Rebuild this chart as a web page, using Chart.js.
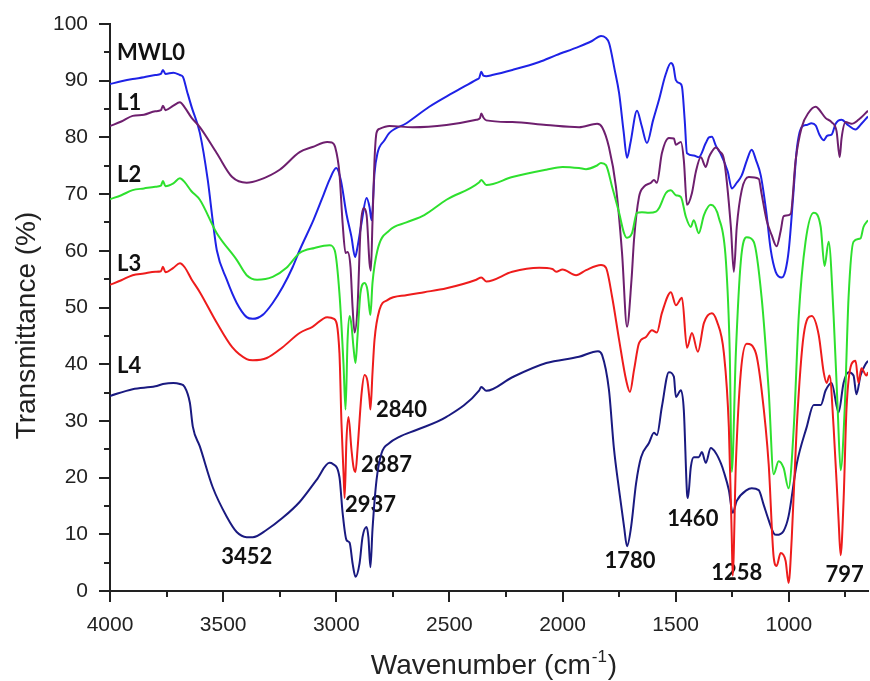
<!DOCTYPE html>
<html>
<head>
<meta charset="utf-8">
<script src="https://cdn.jsdelivr.net/npm/chart.js@4/dist/chart.umd.min.js"></script>
<style>
  html, body { margin: 0; padding: 0; background: #ffffff; }
  #wrap { width: 870px; height: 681px; }
</style>
</head>
<body>
<div id="wrap"><canvas id="ftir" width="870" height="681"></canvas></div>
<script>
// FTIR transmittance spectra: wavenumber (cm^-1) against transmittance (%)

const mwl0Wn = [4000,3950,3900,3850,3800,3775,3766,3755,3720,3691,3678,3660,3638,3603,3568,3545,3528,3484,3440,3396,3369,3325,3281,3237,3193,3162,3100,3055,3030,3000,2980,2955,2933,2917,2906,2888,2866,2853,2844,2831,2818,2787,2765,2690,2589,2487,2380,2368,2359,2350,2337,2311,2222,2103,2028,1927,1870,1830,1810,1794,1770,1750,1730,1715,1700,1671,1650,1627,1600,1574,1545,1521,1510,1499,1480,1472,1460,1450,1420,1398,1367,1353,1340,1322,1300,1270,1252,1230,1208,1185,1164,1145,1124,1100,1080,1058,1031,1015,1000,980,965,943,920,900,881,865,846,830,811,793,767,736,705,679,650];
const mwl0T = [89.4,89.9,90.3,90.6,91.0,91.2,91.9,91.2,91.4,91.0,90.7,88.2,85.2,80.8,72.5,65.0,60.1,54.9,50.8,48.3,48.0,48.7,50.8,53.6,57.1,60.1,65.5,70.0,72.5,74.6,72.5,66.5,62.5,58.9,60.7,65.0,69.3,67.7,65.4,73.7,77.2,79.5,80.8,82.5,85.4,87.8,90.2,90.5,91.6,90.9,90.8,91.0,91.9,93.3,94.5,96.0,97.0,97.9,97.6,96.6,92.0,87.8,81.0,76.4,79.0,84.7,82.0,79.0,83.0,86.6,91.0,93.1,92.5,90.1,89.5,88.9,83.0,77.2,76.8,76.5,79.0,80.0,80.1,78.5,77.0,74.0,71.0,72.0,73.3,76.0,77.8,76.0,73.3,67.0,60.2,56.3,55.3,56.5,60.2,70.0,77.8,81.8,82.2,82.5,82.1,80.5,79.5,80.3,80.5,82.4,83.1,82.1,81.4,82.4,83.7];

const l1Wn = [4000,3950,3900,3850,3800,3775,3766,3755,3720,3691,3670,3640,3603,3528,3460,3396,3340,3250,3162,3105,3040,3020,3005,2986,2972,2959,2950,2937,2928,2919,2906,2893,2880,2866,2853,2847,2840,2831,2822,2809,2765,2663,2513,2381,2365,2359,2350,2337,2222,2072,1927,1847,1825,1795,1764,1737,1715,1695,1684,1662,1640,1609,1596,1583,1561,1530,1508,1499,1477,1464,1450,1428,1411,1389,1367,1353,1340,1322,1305,1287,1256,1243,1230,1208,1177,1133,1120,1098,1076,1054,1036,1023,992,970,943,912,881,868,837,811,789,775,767,749,723,692,650];
const l1T = [82.0,82.8,83.8,84.0,84.6,84.8,85.6,84.8,85.6,86.2,85.3,83.5,81.8,77.2,73.0,72.0,72.5,74.3,77.4,78.3,79.2,79.1,78.3,73.7,64.9,59.6,59.8,57.1,50.1,45.6,50.1,63.7,67.5,66.3,57.8,56.5,65.0,76.0,80.8,81.5,82.0,81.8,82.2,83.1,83.4,84.2,83.5,83.0,82.7,82.2,81.8,82.4,81.8,78.3,71.3,59.6,46.6,55.0,62.0,69.5,71.3,72.0,72.5,72.0,77.2,79.9,79.8,78.7,79.2,76.0,68.1,70.2,73.9,76.5,74.8,76.5,77.5,78.2,77.5,76.2,64.2,56.3,64.2,70.7,73.0,72.7,70.0,65.4,62.8,60.8,63.5,66.1,66.5,75.9,81.8,84.4,85.4,85.0,83.4,82.7,81.1,76.5,79.8,82.7,82.4,83.1,84.7];

const l2Wn = [4000,3950,3900,3850,3800,3775,3766,3755,3720,3691,3670,3640,3603,3528,3440,3396,3350,3281,3220,3162,3096,3030,3007,2986,2968,2959,2950,2941,2933,2924,2915,2906,2893,2875,2862,2853,2849,2840,2818,2765,2690,2611,2513,2368,2359,2337,2222,2072,2000,1927,1896,1850,1830,1808,1781,1750,1728,1715,1693,1671,1649,1618,1587,1574,1543,1521,1499,1477,1455,1433,1420,1398,1375,1345,1309,1278,1261,1252,1234,1212,1186,1155,1120,1089,1067,1045,1023,1001,978,956,926,890,859,842,824,802,784,771,753,736,714,683,670,650];
const l2T = [69.1,69.8,70.7,71.0,71.3,71.5,72.3,71.4,71.9,72.8,72.1,70.5,69.0,63.1,58.4,55.7,54.9,55.4,57.0,59.6,60.5,61.0,60.1,52.5,40.0,32.0,44.3,48.5,47.0,43.0,40.2,45.0,52.6,54.3,53.0,49.6,48.7,54.3,60.1,63.6,65.0,66.3,69.0,72.1,72.5,71.6,73.0,74.3,74.8,74.6,74.4,75.0,75.5,75.1,71.3,66.7,63.1,62.3,63.1,66.7,66.8,66.7,66.9,67.5,70.2,70.7,69.8,69.5,66.0,64.2,65.4,63.1,66.3,68.1,65.8,58.2,42.0,21.0,42.0,58.2,62.4,61.6,51.7,35.4,20.6,22.9,21.7,18.1,28.9,48.5,61.6,66.7,64.2,57.3,61.6,48.5,32.1,21.3,32.1,51.7,61.6,62.2,64.2,65.4];

const l3Wn = [4000,3950,3900,3850,3800,3775,3766,3755,3720,3691,3670,3640,3603,3528,3460,3396,3369,3307,3237,3162,3105,3040,3010,2986,2977,2968,2963,2955,2946,2933,2924,2915,2906,2888,2875,2862,2853,2849,2840,2831,2809,2774,2686,2611,2513,2381,2359,2337,2222,2103,2045,2028,2000,1940,1896,1830,1808,1781,1750,1719,1702,1684,1662,1631,1605,1583,1561,1521,1499,1472,1450,1428,1402,1375,1340,1318,1287,1265,1252,1248,1234,1212,1186,1146,1120,1089,1067,1054,1036,1014,1001,987,965,934,899,868,846,833,820,802,780,771,758,745,723,705,692,679,657,650];
const l3T = [54.0,54.8,55.7,56.0,56.3,56.4,57.2,56.2,57.0,57.8,57.1,55.0,52.7,47.3,43.0,40.9,40.7,41.1,43.0,45.5,46.6,48.3,48.0,42.0,29.6,20.8,16.4,26.6,30.7,25.0,21.9,21.0,25.0,34.9,38.1,37.0,33.7,32.0,38.4,44.3,49.6,51.3,52.2,52.7,53.4,54.9,55.3,54.6,56.3,57.0,56.8,56.3,56.7,55.7,56.6,57.5,57.0,51.9,44.3,37.2,35.1,39.0,43.7,44.8,46.0,45.6,49.0,52.7,50.4,51.7,42.9,45.5,42.2,47.3,49.0,47.6,42.0,28.9,9.3,2.7,22.4,38.6,43.6,42.0,35.4,22.4,6.0,4.4,6.7,5.3,1.4,9.3,28.9,45.2,48.5,45.2,38.6,36.7,38.0,28.9,12.5,6.3,15.9,32.1,40.0,40.6,36.7,39.3,38.0,38.6];

const l4Wn = [4000,3900,3800,3766,3720,3691,3670,3647,3634,3603,3546,3484,3440,3396,3369,3307,3237,3162,3087,3030,3015,2986,2972,2955,2941,2928,2915,2897,2884,2866,2858,2849,2840,2822,2800,2765,2721,2646,2513,2368,2359,2337,2222,2072,1927,1843,1825,1795,1773,1750,1728,1715,1697,1675,1653,1618,1596,1583,1561,1530,1508,1499,1477,1464,1450,1446,1433,1420,1398,1384,1367,1345,1322,1300,1287,1265,1248,1230,1186,1164,1133,1111,1089,1067,1054,1023,1001,965,921,890,859,837,811,780,758,736,714,701,683,661,650];
const l4T = [34.4,35.6,36.1,36.5,36.7,36.5,36.0,33.2,29.0,25.5,18.3,13.1,10.4,9.5,9.5,10.8,12.9,15.7,19.6,22.6,22.4,20.1,13.8,9.0,8.5,4.9,2.5,4.9,9.5,11.3,9.5,4.2,10.8,19.6,24.3,26.1,27.2,28.4,30.7,35.4,36.0,35.3,37.7,40.2,41.3,42.3,41.6,35.5,25.2,17.8,11.3,7.9,11.3,19.0,23.6,26.1,27.9,27.5,32.5,38.6,37.8,34.2,35.4,31.9,17.3,16.4,21.9,23.6,23.6,24.5,22.6,25.2,24.3,22.5,21.0,17.8,13.8,15.9,17.8,18.1,17.8,15.2,12.5,10.2,9.9,10.6,13.2,22.4,28.9,32.8,32.8,35.4,36.7,31.5,36.7,38.6,38.0,34.7,38.0,40.0,40.6];

const seriesNames = ['MWL0', 'L1', 'L2', 'L3', 'L4'];
const xTickValues = [4000, 3500, 3000, 2500, 2000, 1500, 1000];
const yTickValues = [0, 10, 20, 30, 40, 50, 60, 70, 80, 90, 100];

// band annotations, anchored in data units (wavenumber, transmittance)
const bandLabels = ['3452', '2937', '2887', '2840', '1780', '1460', '1258', '797'];
const bandLabelWn = [3396, 2849, 2778, 2712, 1702, 1424, 1230, 753];
const bandLabelT = [6.0, 15.2, 22.2, 31.9, 5.3, 12.7, 3.2, 2.8];
// sample names at the left end of each trace
const nameLabelWn = 3969;
const nameLabelT = [94.9, 86.1, 73.4, 57.7, 39.7];

const wnSets = [mwl0Wn, l1Wn, l2Wn, l3Wn, l4Wn];
const tSets = [mwl0T, l1T, l2T, l3T, l4T];
const colors = ['#1e22e6', '#6e1f6e', '#2ee02e', '#ee1c1c', '#1a1a80'];
const drawOrder = [4, 3, 1, 0, 2];

const datasets = seriesNames.map((name, i) => ({
  label: name,
  data: wnSets[i].map((w, k) => ({ x: w, y: tSets[i][k] })),
  borderColor: colors[i],
  backgroundColor: colors[i],
  borderWidth: 2,
  pointRadius: 0,
  fill: false,
  cubicInterpolationMode: 'monotone',
  order: drawOrder[i]
}));

const axisFont = { family: "'Liberation Sans', Arial, sans-serif", size: 21 };

const decor = {
  id: 'decor',
  beforeDatasetsDraw(chart) {
    const { ctx, scales: { x, y } } = chart;
    ctx.save();
    ctx.fillStyle = '#111111';
    ctx.font = "bold 22px Lato, 'Open Sans', sans-serif";
    ctx.textBaseline = 'middle';
    ctx.textAlign = 'left';
    seriesNames.forEach((n, i) => {
      ctx.fillText(n, x.getPixelForValue(nameLabelWn), y.getPixelForValue(nameLabelT[i]));
    });
    ctx.textAlign = 'center';
    bandLabels.forEach((t, i) => {
      ctx.fillText(t, x.getPixelForValue(bandLabelWn[i]), y.getPixelForValue(bandLabelT[i]));
    });
    ctx.restore();
  },
  afterDraw(chart) {
    const { ctx, chartArea: a, scales: { x, y } } = chart;
    ctx.save();
    ctx.strokeStyle = '#222222';
    ctx.lineWidth = 2;
    // y-axis tick marks: major every 10, minor every 5
    for (let v = 0; v <= 100; v += 5) {
      const py = Math.round(y.getPixelForValue(v));
      const len = v % 10 === 0 ? 11 : 6;
      ctx.beginPath();
      ctx.moveTo(a.left - len, py);
      ctx.lineTo(a.left, py);
      ctx.stroke();
    }
    // x-axis tick marks: major every 500, minor every 250
    for (let v = 4000; v >= 750; v -= 250) {
      const px = Math.round(x.getPixelForValue(v));
      const len = v % 500 === 0 ? 11 : 6;
      ctx.beginPath();
      ctx.moveTo(px, a.bottom);
      ctx.lineTo(px, a.bottom + len);
      ctx.stroke();
    }
    // axis titles
    ctx.fillStyle = '#222222';
    const big = "28px 'Liberation Sans', Arial, sans-serif";
    const small = "17px 'Liberation Sans', Arial, sans-serif";
    ctx.font = big;
    ctx.textBaseline = 'alphabetic';
    ctx.textAlign = 'left';
    const partA = 'Wavenumber (cm';
    const partB = '-1';
    const partC = ')';
    const wA = ctx.measureText(partA).width;
    const wC = ctx.measureText(partC).width;
    ctx.font = small;
    const wB = ctx.measureText(partB).width;
    const total = wA + wB + wC + 2;
    let sx = (a.left + a.right) / 2 + 5 - total / 2;
    const base = 674;
    ctx.font = big;
    ctx.fillText(partA, sx, base);
    ctx.font = small;
    ctx.fillText(partB, sx + wA + 1, base - 12);
    ctx.font = big;
    ctx.fillText(partC, sx + wA + wB + 2, base);

    ctx.translate(35, (a.top + a.bottom) / 2 + 18);
    ctx.rotate(-Math.PI / 2);
    ctx.textAlign = 'center';
    ctx.fillText('Transmittance (%)', 0, 0);
    ctx.restore();
  }
};

new Chart(document.getElementById('ftir'), {
  type: 'line',
  data: { datasets },
  options: {
    responsive: false,
    animation: false,
    devicePixelRatio: 1,
    layout: { padding: { left: 0, right: 2, top: 24, bottom: 0 } },
    plugins: { legend: { display: false }, tooltip: { enabled: false } },
    scales: {
      x: {
        type: 'linear',
        reverse: true,
        min: 650,
        max: 4000,
        grid: { display: false, drawTicks: false },
        border: { display: true, color: '#222222', width: 2 },
        afterBuildTicks: (s) => { s.ticks = xTickValues.map(v => ({ value: v })); },
        afterFit: (s) => { s.height = 90; s.paddingRight = 0; },
        ticks: {
          color: '#222222',
          font: axisFont,
          padding: 22,
          maxRotation: 0,
          autoSkip: false,
          callback: (v) => String(v)
        }
      },
      y: {
        type: 'linear',
        min: 0,
        max: 100,
        grid: { display: false, drawTicks: false },
        border: { display: true, color: '#222222', width: 2 },
        afterBuildTicks: (s) => { s.ticks = yTickValues.map(v => ({ value: v })); },
        afterFit: (s) => { s.width = 110; s.paddingTop = 0; s.paddingBottom = 0; },
        ticks: {
          color: '#222222',
          font: axisFont,
          padding: 22,
          callback: (v) => String(v)
        }
      }
    }
  },
  plugins: [decor]
});
</script>
</body>
</html>
